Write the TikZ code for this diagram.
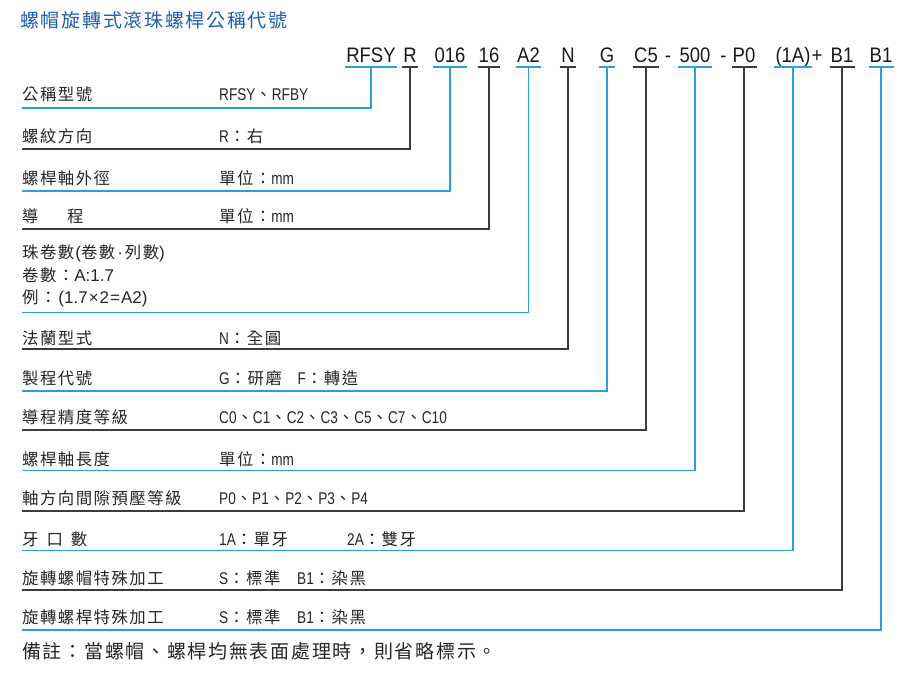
\documentclass[tikz,border=0pt]{standalone}
\usepackage{fontspec}
\newfontfamily\cjkf[LetterSpace=9]{Noto Sans CJK TC}
\newfontfamily\notef[LetterSpace=9]{Noto Sans CJK TC}
\newfontfamily\latf[FakeStretch=0.8]{Liberation Sans}
\newfontfamily\latw{Liberation Sans}
\newfontfamily\codef[FakeStretch=0.88]{Liberation Sans}
\newcommand\la[1]{{\latf\fontsize{17}{20}\selectfont #1}}
\newcommand\lw[1]{{\latw\fontsize{17}{20}\selectfont #1}}
\definecolor{lblue}{HTML}{2A9FDB}
\definecolor{lblack}{HTML}{3E3A39}
\definecolor{tblue}{HTML}{1F5FAE}
\definecolor{txt}{HTML}{262626}
\tikzset{
  bl/.style={draw=lblue, line width=1.6pt},
  bk/.style={draw=lblack, line width=1.8pt},
  tok/.style={anchor=base, inner xsep=1pt, inner ysep=0pt, minimum width=16pt, font={\codef\fontsize{21}{24}\selectfont}, text=black!90},
  lab/.style={anchor=base west, inner sep=0pt, font={\cjkf\fontsize{16.4}{20}\selectfont}, text=txt},
}
\begin{document}
\begin{tikzpicture}[x=1pt,y=-1pt]
\useasboundingbox (0,0) rectangle (900,681);
% title
\node[anchor=base west, inner sep=0pt, font={\notef\fontsize{19}{22}\selectfont}, text=tblue] (title) at (20,27.2) {螺帽旋轉式滾珠螺桿公稱代號};
% code tokens
\node[tok] (c1) at (371,62.2) {RFSY};
\node[tok] (c2) at (410,62.2) {R};
\node[tok] (c3) at (450,62.2) {016};
\node[tok] (c4) at (489,62.2) {16};
\node[tok] (c5) at (528.5,62.2) {A2};
\node[tok] (c6) at (568,62.2) {N};
\node[tok] (c7) at (607,62.2) {G};
\node[tok] (c8) at (646,62.2) {C5};
\node[tok] (d1) at (668,62.2) {-};
\node[tok] (c9) at (695,62.2) {500};
\node[tok] (d2) at (723.5,62.2) {-};
\node[tok] (c10) at (744,62.2) {P0};
\node[tok] (c11) at (793,62.2) {(1A)};
\node[tok] (pl) at (817,62.2) {+};
\node[tok] (c12) at (842,62.2) {B1};
\node[tok] (c13) at (881,62.2) {B1};
\coordinate (ul) at (0,67);
% line end coordinates
\coordinate (e1) at (22,107.7);
\coordinate (e2) at (22,149.3);
\coordinate (e3) at (22,191);
\coordinate (e4) at (22,229.3);
\coordinate (e5) at (22,312.3);
\coordinate (e6) at (22,349.3);
\coordinate (e7) at (22,391);
\coordinate (e8) at (22,430.3);
\coordinate (e9) at (22,470.5);
\coordinate (e10) at (22,511);
\coordinate (e11) at (22,550.3);
\coordinate (e12) at (22,590);
\coordinate (e13) at (22,630);
% underlines and connectors
\foreach \n/\s in {c1/bl,c2/bk,c3/bl,c4/bk,c5/bl,c6/bk,c7/bl,c8/bk,c9/bl,c10/bk,c11/bl,c12/bk,c13/bl}{
  \draw[\s] (\n.west |- ul) -- (\n.east |- ul);
}
\draw[bl] (c1 |- ul) |- (e1);
\draw[bk] (c2 |- ul) |- (e2);
\draw[bl] (c3 |- ul) |- (e3);
\draw[bk] (c4 |- ul) |- (e4);
\draw[bl] (c5 |- ul) |- (e5);
\draw[bk] (c6 |- ul) |- (e6);
\draw[bl] (c7 |- ul) |- (e7);
\draw[bk] (c8 |- ul) |- (e8);
\draw[bl] (c9 |- ul) |- (e9);
\draw[bk] (c10 |- ul) |- (e10);
\draw[bl] (c11 |- ul) |- (e11);
\draw[bk] (c12 |- ul) |- (e12);
\draw[bl] (c13 |- ul) |- (e13);
% rows
\node[lab] (n1) at (22,100.4) {公稱型號};
\node[lab] (v1) at (219,100.4) {\la{RFSY}、\la{RFBY}};
\node[lab] (n2) at (22,142.8) {螺紋方向};
\node[lab] (v2) at (219,142.8) {\la{R}：右};
\node[lab] (n3) at (22,184.4) {螺桿軸外徑};
\node[lab] (v3) at (219,184.4) {單位：\la{mm}};
\node[lab] (n4) at (22,222.8) {導\hspace{28.5pt}程};
\node[lab] (v4) at (219,222.8) {單位：\la{mm}};
\node[lab] (n5a) at (22,258.8) {珠卷數\lw{\hspace{1pt}(}卷數\lw{\hspace{2pt}·\hspace{2pt}}列數\lw{)}};
\node[lab] (n5b) at (22,281.1) {卷數：\lw{A:1.7}};
\node[lab] (n5c) at (22,303.4) {例：\hspace{2pt}\lw{(1.7\hspace{1pt}×\hspace{1pt}2\hspace{1pt}=\hspace{1pt}A2)}};
\node[lab] (n6) at (22,344.4) {法蘭型式};
\node[lab] (v6) at (219,344.4) {\la{N}：全圓};
\node[lab] (n7) at (22,384.4) {製程代號};
\node[lab] (v7) at (219,384.4) {\la{G}：研磨};
\node[lab] (v7b) at (297.5,384.4) {\la{F}：轉造};
\node[lab] (n8) at (22,423.4) {導程精度等級};
\node[lab] (v8) at (219,423.4) {\la{C0}、\la{C1}、\la{C2}、\la{C3}、\la{C5}、\la{C7}、\la{C10}};
\node[lab] (n9) at (22,465.6) {螺桿軸長度};
\node[lab] (v9) at (219,465.6) {單位：\la{mm}};
\node[lab] (n10) at (22,504.6) {軸方向間隙預壓等級};
\node[lab] (v10) at (219,504.6) {\la{P0}、\la{P1}、\la{P2}、\la{P3}、\la{P4}};
\node[lab] (n11) at (22,545.1) {牙\hspace{8pt}口\hspace{8pt}數};
\node[lab] (v11) at (219,545.1) {\la{1A}：單牙};
\node[lab] (v11b) at (347,545.1) {\la{2A}：雙牙};
\node[lab] (n12) at (22,584.4) {旋轉螺帽特殊加工};
\node[lab] (v12) at (219,584.4) {\la{S}：標準};
\node[lab] (v12b) at (297,584.4) {\la{B1}：染黑};
\node[lab] (n13) at (22,623.8) {旋轉螺桿特殊加工};
\node[lab] (v13) at (219,623.8) {\la{S}：標準};
\node[lab] (v13b) at (297,623.8) {\la{B1}：染黑};
% note
\node[anchor=base west, inner sep=0pt, font={\notef\fontsize{19}{22}\selectfont}, text=txt] (note) at (22,658.2) {備註：當螺帽、螺桿均無表面處理時，則省略標示。};
\end{tikzpicture}
\end{document}
